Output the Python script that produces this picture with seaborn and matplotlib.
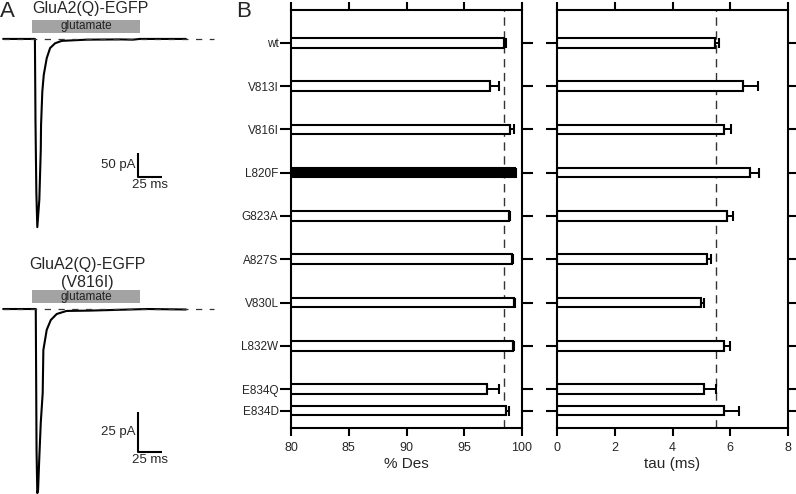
import numpy as np
import pandas as pd
import matplotlib.pyplot as plt
import seaborn as sns
from matplotlib.patches import Rectangle

sns.set_style('ticks')
plt.rcParams['font.family'] = ['Liberation Sans', 'DejaVu Sans']

# panel B data
mutants = ['wt', 'V813I', 'V816I', 'L820F', 'G823A', 'A827S', 'V830L', 'L832W', 'E834Q', 'E834D']
des_mean = [98.4, 97.2, 99.0, 99.4, 98.9, 99.1, 99.3, 99.2, 97.0, 98.6]
des_err = [0.2, 0.8, 0.3, 0.1, 0.1, 0.1, 0.1, 0.1, 1.0, 0.3]
tau_mean = [5.48, 6.45, 5.78, 6.68, 5.89, 5.18, 5.00, 5.79, 5.09, 5.79]
tau_err = [0.14, 0.52, 0.24, 0.32, 0.20, 0.14, 0.10, 0.21, 0.41, 0.52]
des_wt = 98.4
tau_wt = 5.5

# panel A traces (time in ms from glutamate onset, current in pA)
wt_t = [-30, 3.0, 3.6, 4.5, 5.5, 7.6, 9.1, 9.4, 10.7, 12.2, 15.3, 18.8, 24, 31, 57, 92, 105, 112, 160]
wt_i = [0, 0, -170, -320, -392, -335, -231, -179, -110, -75, -40, -19, -9, -4, -1.5, -1, -1.5, 0, 0]
mut_t = [-30, 3.9, 4.7, 5.5, 6.3, 7.6, 9.1, 11.1, 11.8, 15.3, 19.5, 25.7, 36, 60, 90, 120, 160]
mut_i = [0, 0, -88, -115, -113, -92.5, -71, -52.5, -25.6, -13, -6.9, -3.1, -1.2, -1, -0.5, 0, -0.3]
glu_ms = 112

# row layout: last two mutants sit closer together
row_pos = [0, 1, 2, 3, 4, 5, 6, 7, 8, 8.5]

W, H = 796, 494
fig = plt.figure(figsize=(W / 100, H / 100), dpi=100)

def px_axes(x0, y0, x1, y1):
    return fig.add_axes([x0 / W, 1 - y1 / H, (x1 - x0) / W, (y1 - y0) / H])

df = pd.DataFrame({'mut': mutants, 'pos': row_pos, 'des': des_mean, 'tau': tau_mean})
colors_des = {m: ('black' if m == 'L820F' else 'white') for m in mutants}
colors_tau = {m: 'white' for m in mutants}

ax1 = px_axes(291, 10, 522, 428)
ax2 = px_axes(557, 10, 788, 428)

for ax, col, err, pal, ref, lims, ticks, lab in [
        (ax1, 'des', des_err, colors_des, des_wt, (80, 100), [80, 85, 90, 95, 100], '% Des'),
        (ax2, 'tau', tau_err, colors_tau, tau_wt, (0, 8), [0, 2, 4, 6, 8], 'tau (ms)')]:
    sns.barplot(data=df, x=col, y='pos', hue='mut', palette=pal, orient='h',
                native_scale=True, dodge=False, legend=False, errorbar=None,
                width=0.44, edgecolor='black', linewidth=1.5, ax=ax)
    ax.errorbar(df[col], df['pos'], xerr=[np.zeros(len(err)), err], fmt='none',
                ecolor='black', elinewidth=1.4, capsize=3.5, capthick=1.5, zorder=1)
    ax.axvline(ref, color='#333333', lw=1.0, dashes=(6, 4), zorder=0)
    ax.set_xlim(*lims)
    ax.set_ylim(8.9, -0.76)
    ax.set_xticks(ticks)
    ax.set_yticks(row_pos)
    ax.set_xlabel(lab, fontsize=11, labelpad=2)
    ax.set_ylabel('')
    for s in ax.spines.values():
        s.set_linewidth(1.5)
        s.set_color('black')
    ax.tick_params(axis='both', top=True, right=True, width=1.5, color='black')
    ax.tick_params(axis='y', length=8, labelsize=8.5, pad=1)
    ax.tick_params(axis='x', length=6, labelsize=9, pad=4)

ax1.set_yticklabels(mutants)
ax2.set_yticklabels([])

# panel A traces
for y0, y1, yl, t, cur, sc_pa, sc_top in [
        (0, 245, (-429.2, 81.1), wt_t, wt_i, 50, 153),
        (247, 494, (-115.6, 38.75), mut_t, mut_i, 25, 412)]:
    ax = px_axes(0, y0, 215, y1)
    sns.lineplot(x=t, y=cur, sort=False, estimator=None, color='black', lw=1.5, ax=ax)
    ax.set_xlim(-33.3, 190.3)
    ax.set_ylim(*yl)
    ax.axis('off')
    ax.plot([-30, 189], [0, 0], color='#333333', lw=0.9, dashes=(5, 6))
    pa_px = (yl[1] - yl[0]) / (y1 - y0)
    base_px = y0 + yl[1] / pa_px
    bar_lo, bar_hi = pa_px * 6, pa_px * 19
    ax.add_patch(Rectangle((0, bar_lo), glu_ms, bar_hi - bar_lo, color='#a3a3a3', lw=0))
    ax.text(glu_ms / 2, (bar_lo + bar_hi) / 2, 'glutamate', ha='center', va='center',
            fontsize=8.5, color='#222222')
    # scale bars
    bx = 110.2
    ytop = -pa_px * (sc_top - base_px)
    ybot = ytop - sc_pa
    ax.plot([bx, bx, bx + 25], [ytop, ybot, ybot], color='black', lw=1.5,
            solid_capstyle='butt')
    ax.text(bx - 2.5, ybot + sc_pa / 2, f'{sc_pa} pA', ha='right', va='center', fontsize=9.5)
    ax.text(bx + 12.5, ybot - pa_px * 2, '25 ms', ha='center', va='top', fontsize=9.5)

fig.text(90 / W, 1 - 8 / H, 'GluA2(Q)-EGFP', ha='center', va='center', fontsize=11.5)
fig.text(87 / W, 1 - 265 / H, 'GluA2(Q)-EGFP', ha='center', va='center', fontsize=11.5)
fig.text(87 / W, 1 - 282 / H, '(V816I)', ha='center', va='center', fontsize=11.5)
fig.text(0 / W, 1 - 1 / H, 'A', ha='left', va='top', fontsize=16)
fig.text(236 / W, 1 - 1 / H, 'B', ha='left', va='top', fontsize=16)

fig.savefig('out.png', dpi=100)
